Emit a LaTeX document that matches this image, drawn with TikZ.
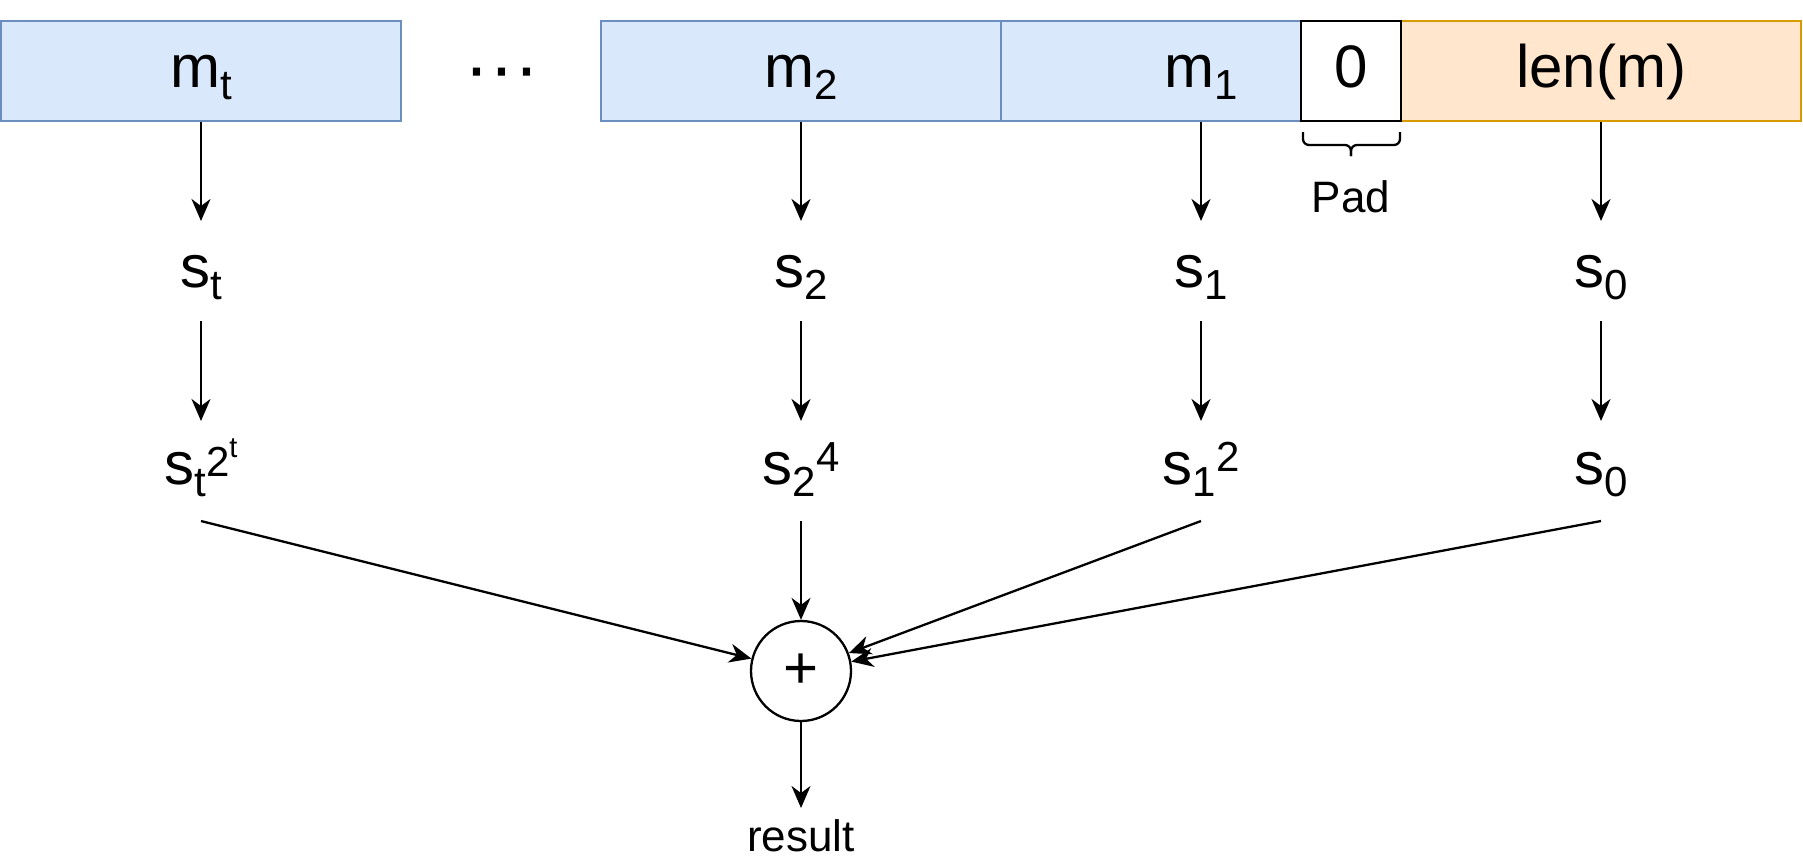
\documentclass[tikz,border=0pt]{standalone}
\usepackage{fontspec}
\setmainfont{Liberation Sans}
\usetikzlibrary{arrows.meta}
\definecolor{bluefill}{HTML}{DAE8FC}
\definecolor{blueline}{HTML}{6C8EBF}
\definecolor{orangefill}{HTML}{FFE6CC}
\definecolor{orangeline}{HTML}{D79B00}
\newcommand\Lfont{\fontsize{60}{72}\selectfont}
\newcommand\Sfont{\fontsize{44}{52}\selectfont}
\newcommand\mysub[1]{\raisebox{-12pt}{\fontsize{42}{50}\selectfont #1}}
\newcommand\mysup[2][13pt]{\raisebox{#1}{\fontsize{42}{50}\selectfont #2}}
\begin{document}
\begin{tikzpicture}[x=1pt, y=-1pt, line width=2.3pt, font=\Lfont,
  cellbox/.style={draw, minimum width=400pt, minimum height=100pt, inner sep=0pt,
    text height=45pt, text depth=13pt, line width=2.3pt},
  bluebox/.style={cellbox, fill=bluefill, draw=blueline},
  orangebox/.style={cellbox, fill=orangefill, draw=orangeline},
  lab/.style={inner sep=0pt, outer sep=0pt},
  rowone/.style={lab, text height=66pt, text depth=34pt},
  rowtwo/.style={lab, text height=63pt, text depth=37pt},
  arr/.style={-{Stealth[length=22pt,width=19pt,inset=7pt]}, line width=2.3pt}]
\useasboundingbox (0,0) rectangle (1803,860);

% top row of boxes
\node[bluebox] (mt) at (201,71) {m\mysub{t}};
\node[lab, anchor=base, font=\fontsize{75}{90}\selectfont] (dots) at (502,92) {···};
\node[bluebox] (m2) at (801,71) {m\mysub{2}};
\node[bluebox] (m1) at (1201,71) {m\mysub{1}};
\node[orangebox] (len) at (1601,71) {len(m)};
\node[cellbox, fill=white, draw=black, minimum width=100pt] (zero) at (1351,71) {0};

% brace and Pad
\draw[rounded corners=6pt] (1303,132) -- (1303,145) -- (1351,145) -- (1351,156);
\draw[rounded corners=6pt] (1400,132) -- (1400,145) -- (1351,145) -- (1351,156);
\node[lab, anchor=base, font=\Sfont] (pad) at (1351,212) {Pad};

% first row of s
\node[rowone] (st) at (201,271) {s\mysub{t}};
\node[rowone] (s2) at (801,271) {s\mysub{2}};
\node[rowone] (s1) at (1201,271) {s\mysub{1}};
\node[rowone] (s0) at (1601,271) {s\mysub{0}};

% second row
\node[rowtwo] (qt) at (201,471) {s\mysub{t}\raisebox{8pt}{\fontsize{42}{50}\selectfont 2\raisebox{19pt}{\fontsize{29}{35}\selectfont t}}};
\node[rowtwo] (q2) at (801,471) {s\mysub{2}\mysup{4}};
\node[rowtwo] (q1) at (1201,471) {s\mysub{1}\mysup{2}};
\node[rowtwo] (q0) at (1601,471) {s\mysub{0}};

% sum and result
\node[draw, circle, minimum size=100pt, inner sep=0pt, line width=2.3pt] (circ) at (801,671) {+};
\node[lab, font=\Sfont, text height=43pt, text depth=0pt] (res) at (801,829.5) {result};

% connectors
\foreach \a/\b in {mt/st, m2/s2, m1/s1, len/s0, st/qt, s2/q2, s1/q1, s0/q0}
  \draw[arr] (\a.south) -- (\b.north);
\foreach \a in {qt, q2, q1, q0}
  \draw[arr] (\a.south) -- (circ);
\draw[arr] (circ.south) -- (res.north);
\end{tikzpicture}
\end{document}
